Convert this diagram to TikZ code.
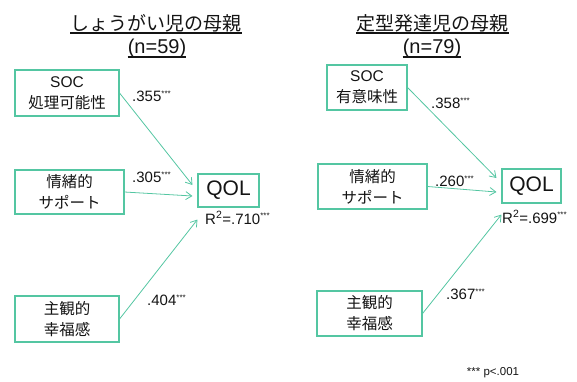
\documentclass[tikz,border=0pt]{standalone}
\usepackage{fontspec}
\setmainfont{Liberation Sans}
\newfontfamily\jp{Noto Sans CJK JP}
\usetikzlibrary{arrows.meta}
\definecolor{tealc}{RGB}{84,198,162}
\definecolor{txt}{RGB}{20,20,20}
\newcommand{\st}{\textsuperscript{\fontsize{8}{8}\selectfont ***}}
\begin{document}
\begin{tikzpicture}[x=1pt,y=-1pt,
  every node/.style={text=txt},
  vbox/.style={draw=tealc,line width=1.1pt,inner sep=0pt,align=center,
    font=\fontsize{15.5}{21}\selectfont},
  qbox/.style={draw=tealc,line width=1.1pt,inner sep=0pt,
    font=\fontsize{21}{24}\selectfont},
  coef/.style={anchor=west,inner sep=0pt,font=\fontsize{15}{18}\selectfont},
  ttl/.style={anchor=base,inner sep=0pt,font=\jp\fontsize{19}{22}\selectfont},
  ttn/.style={anchor=base,inner sep=0pt,font=\fontsize{20}{22}\selectfont},
  uline/.style={line width=1.5pt,draw=txt},
  path/.style={draw=tealc,line width=0.8pt,-{Straight Barb[length=6pt,width=8pt]}}]
\useasboundingbox (0,0) rectangle (577,381);

% ---------- left panel ----------
\node[ttl] (t1) at (156,30) {しょうがい児の母親};
\node[ttn] (n1) at (157,53) {(n=59)};
\draw[uline] ([yshift=-3pt]t1.base west) -- ([yshift=-3pt]t1.base east);
\draw[uline] ([yshift=-4pt]n1.base west) -- ([yshift=-4pt]n1.base east);

\node[vbox,minimum width=104,minimum height=46] (s1) at (67,93) {SOC\\{\jp 処理可能性}};
\node[vbox,minimum width=109,minimum height=44] (e1) at (69.5,192) {{\jp 情緒的}\\{\jp サポート}};
\node[vbox,minimum width=104,minimum height=46] (w1) at (67,319) {{\jp 主観的}\\{\jp 幸福感}};
\node[qbox,minimum width=61,minimum height=33] (q1) at (228.5,190.5) {QOL};

\coordinate (q1a) at ([shift={(-5,-5.5)}]q1.west);
\coordinate (q1b) at ([shift={(-5,5.5)}]q1.west);
\coordinate (q1c) at ([shift={(0,12)}]q1.south west);
\draw[path] (s1.east) -- (q1a);
\draw[path] (e1.east) -- (q1b);
\draw[path] (w1.east) -- (q1c);

\node[coef] (c11) at (132,96) {.355\st};
\node[coef] (c12) at (132,177) {.305\st};
\node[coef] (c13) at (147,300) {.404\st};
\node[coef] (r1) at (205,218) {R\textsuperscript{2}=.710\st};

% ---------- right panel ----------
\node[ttl] (t2) at (432.5,30) {定型発達児の母親};
\node[ttn] (n2) at (432,53) {(n=79)};
\draw[uline] ([yshift=-3pt]t2.base west) -- ([yshift=-3pt]t2.base east);
\draw[uline] ([yshift=-4pt]n2.base west) -- ([yshift=-4pt]n2.base east);

\node[vbox,minimum width=80,minimum height=45] (s2) at (367,87.5) {SOC\\{\jp 有意味性}};
\node[vbox,minimum width=109,minimum height=45] (e2) at (372.5,186.5) {{\jp 情緒的}\\{\jp サポート}};
\node[vbox,minimum width=105,minimum height=45] (w2) at (369.5,313.5) {{\jp 主観的}\\{\jp 幸福感}};
\node[qbox,minimum width=59,minimum height=34] (q2) at (531.5,186) {QOL};

\coordinate (q2a) at ([shift={(-5,-8)}]q2.west);
\coordinate (q2b) at ([shift={(-5,6)}]q2.west);
\coordinate (q2c) at ([shift={(0,11)}]q2.south west);
\draw[path] (s2.east) -- (q2a);
\draw[path] (e2.east) -- (q2b);
\draw[path] (w2.east) -- (q2c);

\node[coef] (c21) at (431,103) {.358\st};
\node[coef] (c22) at (435,181) {.260\st};
\node[coef] (c23) at (446,294) {.367\st};
\node[coef] (r2) at (502,217) {R\textsuperscript{2}=.699\st};

\node[inner sep=0pt,font=\fontsize{11.5}{13}\selectfont] (note) at (493,373) {*** p<.001};
\end{tikzpicture}
\end{document}
